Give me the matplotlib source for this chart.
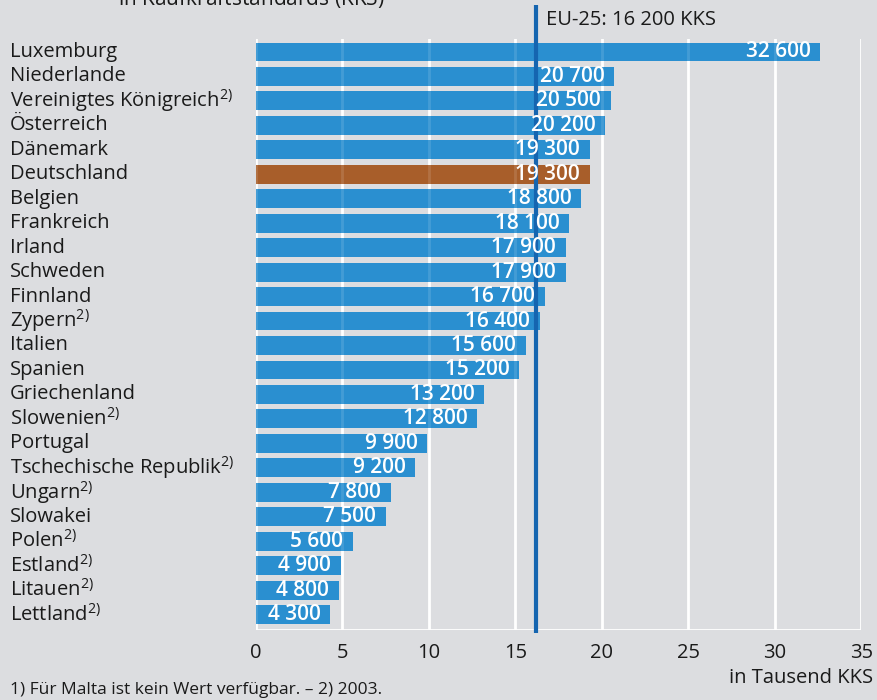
import matplotlib.pyplot as plt
from matplotlib.transforms import blended_transform_factory

plt.rcParams['font.family'] = ['Open Sans', 'DejaVu Sans']
plt.rcParams['mathtext.fontset'] = 'custom'
plt.rcParams['mathtext.rm'] = 'Open Sans'

countries = ['Luxemburg', 'Niederlande', 'Vereinigtes Königreich$^{\\mathrm{2)}}$', 'Österreich',
             'Dänemark', 'Deutschland', 'Belgien', 'Frankreich', 'Irland', 'Schweden',
             'Finnland', 'Zypern$^{\\mathrm{2)}}$', 'Italien', 'Spanien', 'Griechenland',
             'Slowenien$^{\\mathrm{2)}}$', 'Portugal', 'Tschechische Republik$^{\\mathrm{2)}}$',
             'Ungarn$^{\\mathrm{2)}}$', 'Slowakei', 'Polen$^{\\mathrm{2)}}$', 'Estland$^{\\mathrm{2)}}$',
             'Litauen$^{\\mathrm{2)}}$', 'Lettland$^{\\mathrm{2)}}$']
values = [32600, 20700, 20500, 20200, 19300, 19300, 18800, 18100, 17900, 17900,
          16700, 16400, 15600, 15200, 13200, 12800, 9900, 9200, 7800, 7500,
          5600, 4900, 4800, 4300]
eu_avg = 16200
xticks = [0, 5, 10, 15, 20, 25, 30, 35]

bg = '#dcdde0'
blue = '#2a8fd0'
brown = '#a85e2a'

fig = plt.figure(figsize=(8.77, 7), dpi=100, facecolor=bg)
ax = fig.add_axes([0.2916, 0.1, 0.9823 - 0.2916, 0.944 - 0.1])
ax.set_facecolor(bg)

n = len(values)
ys = list(range(n))
xs = [v / 1000 for v in values]
colors = [brown if c == 'Deutschland' else blue for c in countries]
ax.barh(ys, xs, height=0.77, color=colors, zorder=2)

for x in xticks:
    ax.axvline(x, color='white', lw=2, zorder=1)
    ax.axvline(x, color='white', lw=2, alpha=0.12, zorder=2.5)
ax.axhline(n - 0.5 + 0.13, color='white', lw=2, zorder=1)

ax.set_xlim(0, 35)
ax.set_ylim(n - 0.5 + 0.13, -0.52)
for s in ax.spines.values():
    s.set_visible(False)
ax.set_yticks([])
ax.set_xticks(xticks)
ax.set_xticklabels([str(t) for t in xticks], fontsize=14.5, color='#1a1a1a')
ax.tick_params(axis='x', length=0, pad=9)

for y, x, v in zip(ys, xs, values):
    ax.text(x - 0.55, y, f'{v:,}'.replace(',', ' '), ha='right', va='center',
            color='white', fontsize=15, fontweight='semibold', zorder=5)

tr = blended_transform_factory(fig.transFigure, ax.transData)
for y, c in zip(ys, countries):
    ax.text(10 / 877, y, c, transform=tr, ha='left', va='center', fontsize=14.5,
            color='#1a1a1a')

# EU average line
ax.plot([eu_avg / 1000, eu_avg / 1000], [n - 0.5 + 0.25, -1.9], color='#1565b0', lw=3,
        zorder=4, clip_on=False, solid_capstyle='butt')
ax.text(eu_avg / 1000 + 0.6, -1.3, 'EU-25: 16 200 KKS', ha='left', va='center',
        fontsize=14.5, color='#1a1a1a')

fig.text(118 / 877, 1 - 6 / 700, 'in Kaufkraftstandards (KKS)$^{\\mathrm{1)}}$', ha='left',
         va='baseline', fontsize=15, color='#1a1a1a')
fig.text(1 - 4 / 877, 1 - 678 / 700, 'in Tausend KKS', ha='right', va='center',
         fontsize=14.5, color='#1a1a1a')
fig.text(10 / 877, 1 - 690 / 700, '1) Für Malta ist kein Wert verfügbar. – 2) 2003.',
         ha='left', va='center', fontsize=12.5, color='#1a1a1a')

fig.savefig('out.png', dpi=100, facecolor=bg)
